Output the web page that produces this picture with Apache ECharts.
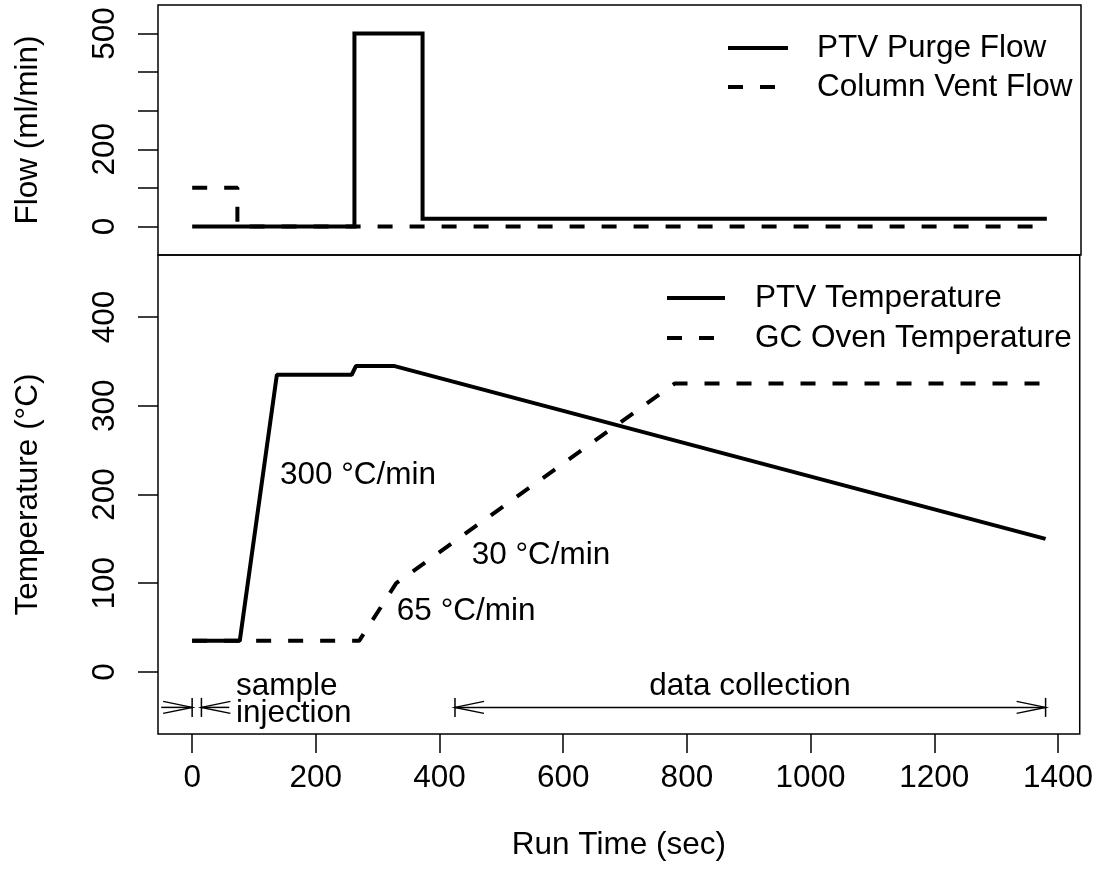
<!DOCTYPE html>
<html>
<head>
<meta charset="utf-8">
<script src="https://cdn.jsdelivr.net/npm/echarts@6/dist/echarts.min.js"></script>
<style>
html,body{margin:0;padding:0;background:#fff;}
#chart{width:1096px;height:889px;}
</style>
</head>
<body>
<div id="chart"></div>
<script>
// ---- data ----
const purgeX = [0, 262, 262, 372, 372, 1380];
const purgeY = [0, 0, 500, 500, 20, 20];
const ventX = [0, 73, 73, 1380];
const ventY = [100, 100, 0, 0];
const ptvX = [0, 77, 137, 258, 265, 326, 1380];
const ptvY = [35, 35, 335, 335, 345, 345, 150];
const ovenX = [0, 270, 330, 780, 1380];
const ovenY = [35, 35, 100, 325, 325];

const xTicks = [0, 200, 400, 600, 800, 1000, 1200, 1400];
const flowTicks = [0, 100, 200, 300, 400, 500];
const flowTickLabels = [0, 200, 500];
const tempTicks = [0, 100, 200, 300, 400];

const rateLabels = ['300 °C/min', '30 °C/min', '65 °C/min'];
const rateLabelX = [142, 452, 331];
const rateLabelY = [222, 132, 68.5];

const phaseLabels = ['sample\ninjection', 'data collection'];
const phaseLabelX = [71, 902];
const phaseLabelY = [-30.9, -16.3];
const phaseLabelAlign = ['left', 'center'];

// arrows: from x0 to x1 at height y; head (with end bar) at start and/or end
const arrowX0 = [-50, 60, 425];
const arrowX1 = [0, 15, 1380];
const arrowY = [-40, -40, -40];
const arrowHeadStart = [0, 0, 1];
const arrowHeadEnd = [1, 1, 1];

const xMin = -55.2, xMax = 1435.2;
const FONT = '"Liberation Sans", Arial, Helvetica, sans-serif';
const FS = 31.5;

const zip = (a, b) => a.map((v, i) => [v, b[i]]);
const plain = v => String(v);

const chart = echarts.init(document.getElementById('chart'), null, {renderer: 'canvas'});

const dashed = [15, 17];
const LW = 4;

const option = {
  animation: false,
  backgroundColor: '#fff',
  textStyle: {fontFamily: FONT},
  grid: [
    {left: 158, right: 15, top: 5, height: 250, show: true, borderColor: '#000', borderWidth: 1.5, backgroundColor: 'transparent'},
    {left: 158, right: 15, top: 255, height: 479, show: true, borderColor: '#000', borderWidth: 1.5, backgroundColor: 'transparent'}
  ],
  xAxis: [
    {type: 'value', gridIndex: 0, min: xMin, max: xMax, show: false},
    {type: 'value', gridIndex: 1, min: xMin, max: xMax,
      name: 'Run Time (sec)', nameLocation: 'middle', nameGap: 95,
      nameTextStyle: {fontSize: FS, color: '#000', fontFamily: FONT},
      axisLine: {show: false, onZero: false},
      splitLine: {show: false},
      axisTick: {show: true, length: 19, inside: false, customValues: xTicks, lineStyle: {color: '#000', width: 1.5}},
      axisLabel: {show: true, customValues: xTicks, formatter: plain, fontSize: FS, color: '#000', margin: 28, fontFamily: FONT}
    }
  ],
  yAxis: [
    {type: 'value', gridIndex: 0, min: -74, max: 574,
      name: 'Flow (ml/min)', nameLocation: 'middle', nameGap: 114, nameRotate: 90,
      nameTextStyle: {fontSize: FS, color: '#000', fontFamily: FONT},
      axisLine: {show: false, onZero: false}, splitLine: {show: false},
      axisTick: {show: true, length: 20, customValues: flowTicks, lineStyle: {color: '#000', width: 1.5}},
      axisLabel: {show: true, customValues: flowTickLabels, formatter: plain, rotate: 90, fontSize: FS, color: '#000', margin: 37, fontFamily: FONT}
    },
    {type: 'value', gridIndex: 1, min: -70, max: 470,
      name: 'Temperature (°C)', nameLocation: 'middle', nameGap: 114, nameRotate: 90,
      nameTextStyle: {fontSize: FS, color: '#000', fontFamily: FONT},
      axisLine: {show: false, onZero: false}, splitLine: {show: false},
      axisTick: {show: true, length: 20, customValues: tempTicks, lineStyle: {color: '#000', width: 1.5}},
      axisLabel: {show: true, customValues: tempTicks, formatter: plain, rotate: 90, fontSize: FS, color: '#000', margin: 37, fontFamily: FONT}
    }
  ],
  legend: [
    {data: ['PTV Purge Flow', 'Column Vent Flow'], orient: 'vertical', left: 721, top: 27,
      itemWidth: 60, itemHeight: 24, itemGap: 7, selectedMode: false,
      itemStyle: {opacity: 0, borderWidth: 0},
      lineStyle: {color: '#000', opacity: 1, width: LW, cap: 'butt'},
      textStyle: {fontSize: FS, lineHeight: 32, color: '#000', fontFamily: FONT, padding: [0, 0, 0, 24]}},
    {data: ['PTV Temperature', 'GC Oven Temperature'], orient: 'vertical', left: 660, top: 277,
      itemWidth: 58, itemHeight: 24, itemGap: 8, selectedMode: false,
      itemStyle: {opacity: 0, borderWidth: 0},
      lineStyle: {color: '#000', opacity: 1, width: LW, cap: 'butt'},
      textStyle: {fontSize: FS, lineHeight: 32, color: '#000', fontFamily: FONT, padding: [0, 0, 0, 25]}}
  ],
  series: [
    {name: 'PTV Purge Flow', type: 'line', xAxisIndex: 0, yAxisIndex: 0, data: zip(purgeX, purgeY),
      symbol: 'none', lineStyle: {color: '#000', width: LW, type: 'solid', join: 'miter'}, itemStyle: {color: '#000'}, silent: true, z: 3},
    {name: 'Column Vent Flow', type: 'line', xAxisIndex: 0, yAxisIndex: 0, data: zip(ventX, ventY),
      symbol: 'none', lineStyle: {color: '#000', width: LW, type: dashed, cap: 'butt'}, itemStyle: {color: '#000'}, silent: true, z: 3},
    {name: 'PTV Temperature', type: 'line', xAxisIndex: 1, yAxisIndex: 1, data: zip(ptvX, ptvY),
      symbol: 'none', lineStyle: {color: '#000', width: LW, type: 'solid'}, itemStyle: {color: '#000'}, silent: true, z: 3},
    {name: 'GC Oven Temperature', type: 'line', xAxisIndex: 1, yAxisIndex: 1, data: zip(ovenX, ovenY),
      symbol: 'none', lineStyle: {color: '#000', width: LW, type: dashed, cap: 'butt'}, itemStyle: {color: '#000'}, silent: true, z: 3},
    {name: 'rates', type: 'custom', xAxisIndex: 1, yAxisIndex: 1, silent: true, clip: false,
      data: zip(rateLabelX, rateLabelY),
      renderItem: function (params, api) {
        const p = api.coord([api.value(0), api.value(1)]);
        return {type: 'text', x: p[0], y: p[1], style: {text: rateLabels[params.dataIndex], font: FS + 'px ' + FONT, fill: '#000', textAlign: 'left', textVerticalAlign: 'middle'}};
      }
    },
    {name: 'phases', type: 'custom', xAxisIndex: 1, yAxisIndex: 1, silent: true, clip: false,
      data: zip(phaseLabelX, phaseLabelY),
      renderItem: function (params, api) {
        const p = api.coord([api.value(0), api.value(1)]);
        return {type: 'text', x: p[0], y: p[1], style: {text: phaseLabels[params.dataIndex], font: FS + 'px ' + FONT, lineHeight: 27, fill: '#000', textAlign: phaseLabelAlign[params.dataIndex], textVerticalAlign: 'middle'}};
      }
    },
    {name: 'arrows', type: 'custom', xAxisIndex: 1, yAxisIndex: 1, silent: true, clip: false,
      data: arrowX0.map((x0, i) => [x0, arrowX1[i], arrowY[i]]),
      encode: {x: [0, 1], y: 2},
      renderItem: function (params, api) {
        const i = params.dataIndex;
        const p0 = api.coord([api.value(0), api.value(2)]);
        const p1 = api.coord([api.value(1), api.value(2)]);
        const st = {stroke: '#000', lineWidth: 1.5, fill: null};
        const children = [{type: 'line', shape: {x1: p0[0], y1: p0[1], x2: p1[0], y2: p1[1]}, style: st}];
        const L = 29, H = 6, B = 9.5;
        function head(tip, from) {
          const dir = tip[0] - from[0] >= 0 ? 1 : -1;
          children.push({type: 'polyline', shape: {points: [[tip[0] - dir * L, tip[1] - H], [tip[0], tip[1]], [tip[0] - dir * L, tip[1] + H]]}, style: st});
          children.push({type: 'line', shape: {x1: tip[0], y1: tip[1] - B, x2: tip[0], y2: tip[1] + B}, style: st});
        }
        if (arrowHeadEnd[i]) head(p1, p0);
        if (arrowHeadStart[i]) head(p0, p1);
        return {type: 'group', children: children};
      }
    }
  ]
};
chart.setOption(option);
</script>
</body>
</html>
